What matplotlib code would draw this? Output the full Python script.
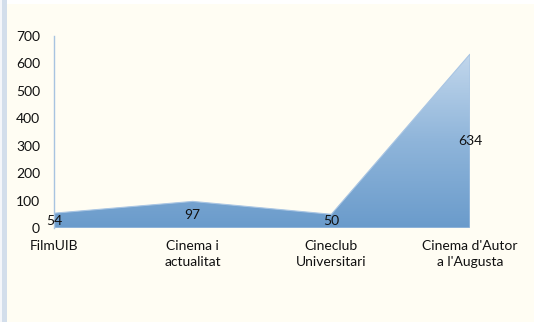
import matplotlib
matplotlib.use("Agg")
import matplotlib.pyplot as plt
import numpy as np
from matplotlib.patches import Polygon, Rectangle
from matplotlib.colors import LinearSegmentedColormap

categories = ["FilmUIB", "Cinema i\nactualitat", "Cineclub\nUniversitari", "Cinema d'Autor\na l'Augusta"]
values = [54, 97, 50, 634]
yticks = [0, 100, 200, 300, 400, 500, 600, 700]

plt.rcParams['font.family'] = ['Lato', 'DejaVu Sans']

W, H = 534, 322
fig = plt.figure(figsize=(W/100, H/100), dpi=100)
bg = "#FFFDF3"
fig.patch.set_facecolor(bg)

# window-like border strips
fig.patches.append(Rectangle((0, 0), 7/W, 1, transform=fig.transFigure, facecolor="#D3DEEB", edgecolor="none", zorder=0))
fig.patches.append(Rectangle((0, 0), 2/W, 1, transform=fig.transFigure, facecolor="#F4F6FA", edgecolor="none", zorder=0))
fig.patches.append(Rectangle((7/W, 1-4/H), 1, 4/H, transform=fig.transFigure, facecolor="#FFFFFF", edgecolor="none", zorder=0))

x0, x1 = 54, 470
y0, y1 = 228, 36
ax = fig.add_axes([x0/W, 1-y0/H, (x1-x0)/W, (y0-y1)/H])
ax.set_facecolor(bg)
ax.patch.set_alpha(0)

x = np.arange(len(values))

verts = [(0, 0)] + list(zip(x, values)) + [(x[-1], 0)]
poly = Polygon(verts, closed=True, facecolor="none", edgecolor="#A9C5E3", linewidth=0.8, zorder=3)
ax.add_patch(poly)

cmap = LinearSegmentedColormap.from_list("g", ["#6A9BCB", "#8FB5DA", "#C2D7EC"])
grad = np.linspace(0, 1, 256).reshape(-1, 1)
im = ax.imshow(grad, extent=[0, len(values)-1, 0, max(values)], origin="lower",
               aspect="auto", cmap=cmap, zorder=2)
clip = Polygon(verts, closed=True, transform=ax.transData)
im.set_clip_path(clip)
ax.set_xlim(0, len(values)-1)
ax.set_ylim(0, 700)

for xi, v in zip(x, values):
    ax.text(xi, v/2, str(v), ha="center", va="center", fontsize=10, color="#111111", zorder=4)

ax.set_yticks(yticks)
ax.set_yticklabels([str(t) for t in yticks], fontsize=10, color="#111111")
ax.set_xticks(x)
ax.set_xticklabels(categories, fontsize=10, color="#111111", linespacing=1.3)
ax.tick_params(axis="both", length=0)
ax.tick_params(axis="y", pad=10)
ax.tick_params(axis="x", pad=9)

for s in ["top", "right", "bottom"]:
    ax.spines[s].set_visible(False)
ax.spines["left"].set_color("#A8C4E0")
ax.spines["left"].set_linewidth(1.0)

fig.savefig("out.png", dpi=100, facecolor=bg)
